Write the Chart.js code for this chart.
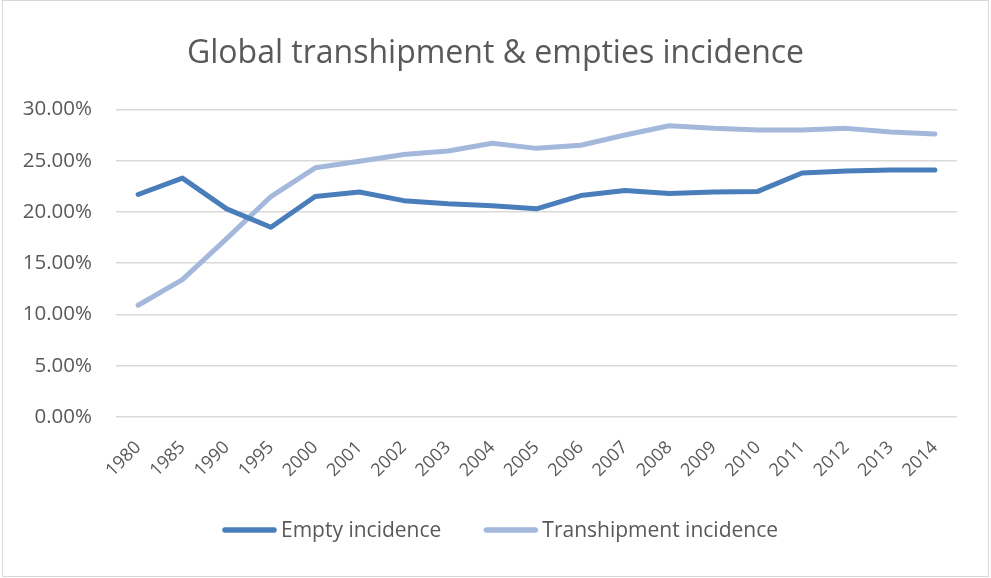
<!DOCTYPE html>
<html>
<head>
<meta charset="utf-8">
<script src="https://cdn.jsdelivr.net/npm/chart.js@4.4.1/dist/chart.umd.min.js"></script>
<style>
    body { margin: 0; background: #fff; }
    #frame { position: absolute; left: 2px; top: 0; width: 985px; height: 575px; border: 1px solid #d9d9d9; }
    #wrap { position: absolute; left: 0; top: 0; width: 991px; height: 578px; }
</style>
</head>
<body>
<div id="frame"></div>
<div id="wrap"><canvas id="chart1"></canvas></div>
<script>
// data
const years = ['1980', '1985', '1990', '1995', '2000', '2001', '2002', '2003', '2004', '2005',
    '2006', '2007', '2008', '2009', '2010', '2011', '2012', '2013', '2014'];
const emptyIncidence = [21.7, 23.3, 20.3, 18.5, 21.5, 21.95, 21.1, 20.8, 20.6, 20.3,
    21.6, 22.1, 21.8, 21.95, 22.0, 23.8, 24.0, 24.1, 24.1];
const transhipmentIncidence = [10.9, 13.4, 17.4, 21.5, 24.3, 24.95, 25.6, 25.95, 26.7, 26.2,
    26.5, 27.5, 28.4, 28.15, 28.0, 28.0, 28.15, 27.8, 27.6];
const yTicks = [0, 5, 10, 15, 20, 25, 30];

const darkBlue = '#4a7ebb';
const lightBlue = '#a3b8db';
const textGrey = '#595959';
const fontName = '"Open Sans", sans-serif';

// legend drawn like the excel one: long line, text right after it
const bottomLegend = {
    id: 'bottomLegend',
    afterDraw: function (chart) {
        const ctx = chart.ctx;
        const lineW = 55, gap = 4, itemGap = 42, y = 530;
        ctx.save();
        ctx.font = '21px ' + fontName;
        const items = chart.data.datasets.map(ds => ({
                text: ds.label,
                color: ds.borderColor,
                w: ctx.measureText(ds.label).width
            }));
        let total = 0;
        items.forEach(function (it, i) {
            total += lineW + gap + it.w + (i > 0 ? itemGap : 0);
        });
        let x = 500 - total / 2;
        items.forEach(function (it) {
            ctx.strokeStyle = it.color;
            ctx.lineWidth = 5.5;
            ctx.lineCap = 'round';
            ctx.beginPath();
            ctx.moveTo(x + 3, y);
            ctx.lineTo(x + lineW - 3, y);
            ctx.stroke();
            ctx.fillStyle = textGrey;
            ctx.textBaseline = 'middle';
            ctx.textAlign = 'left';
            ctx.fillText(it.text, x + lineW + gap, y + 1);
            x += lineW + gap + it.w + itemGap;
        });
        ctx.restore();
    }
};

function createChart() {
    const ctx = document.getElementById('chart1').getContext('2d');
    new Chart(ctx, {
        type: 'line',
        data: {
            labels: years,
            datasets: [{
                    label: 'Empty incidence',
                    data: emptyIncidence,
                    borderColor: darkBlue,
                    backgroundColor: darkBlue,
                    borderWidth: 5,
                    borderCapStyle: 'round',
                    borderJoinStyle: 'round',
                    pointRadius: 0,
                    tension: 0
                }, {
                    label: 'Transhipment incidence',
                    data: transhipmentIncidence,
                    borderColor: lightBlue,
                    backgroundColor: lightBlue,
                    borderWidth: 5,
                    borderCapStyle: 'round',
                    borderJoinStyle: 'round',
                    pointRadius: 0,
                    tension: 0
                }]
        },
        options: {
            responsive: false,
            animation: false,
            layout: {padding: {left: 0, right: 0, top: 0, bottom: 71}},
            plugins: {
                title: {
                    display: true,
                    text: 'Global transhipment & empties incidence',
                    color: textGrey,
                    font: {family: fontName, size: 32, weight: 'normal'},
                    padding: {top: 35, bottom: 36}
                },
                legend: {display: false},
                tooltip: {enabled: false}
            },
            scales: {
                x: {
                    offset: true,
                    grid: {display: false, drawTicks: false},
                    border: {display: false},
                    ticks: {
                        color: textGrey,
                        font: {family: fontName, size: 18},
                        minRotation: 45,
                        maxRotation: 45,
                        autoSkip: false,
                        padding: 20
                    },
                    afterFit: function (scale) {
                        scale.height = 90;
                    }
                },
                y: {
                    min: 0,
                    max: 30,
                    afterBuildTicks: function (scale) {
                        scale.ticks = yTicks.map(v => ({value: v}));
                    },
                    grid: {color: '#d9d9d9', lineWidth: 1.5, drawTicks: false},
                    border: {display: false},
                    ticks: {
                        color: textGrey,
                        font: {family: fontName, size: 20.5},
                        padding: 24,
                        callback: v => v.toFixed(2) + '%'
                    },
                    afterFit: function (scale) {
                        scale.width = 116;
                    }
                },
                // empty right axis, only keeps the plot off the right edge
                yRight: {
                    position: 'right',
                    grid: {display: false, drawTicks: false},
                    border: {display: false},
                    ticks: {display: false},
                    afterFit: function (scale) {
                        scale.width = 34;
                    }
                }
            }
        },
        plugins: [bottomLegend]
    });
}

document.getElementById('chart1').width = 991;
document.getElementById('chart1').height = 578;
createChart();
</script>
</body>
</html>
